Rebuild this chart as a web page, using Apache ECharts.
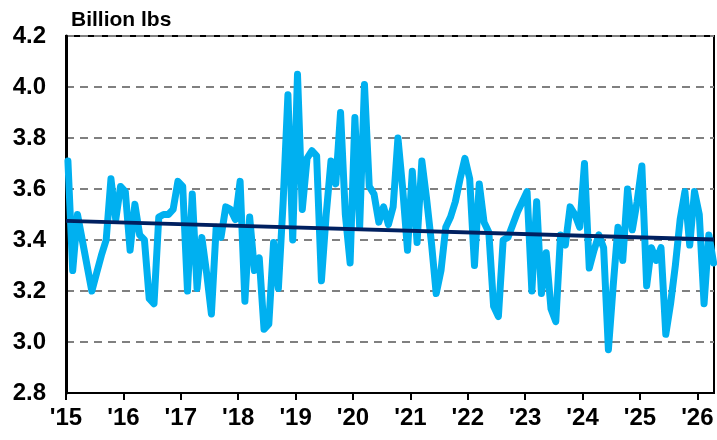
<!DOCTYPE html>
<html>
<head>
<meta charset="utf-8">
<script src="https://cdn.jsdelivr.net/npm/echarts@6/dist/echarts.min.js"></script>
<style>
  html, body { margin: 0; padding: 0; background: #fff; }
  #chart { width: 717px; height: 440px; }
</style>
</head>
<body>
<div id="chart"></div>
<script>
// monthly values, Jan 2015 .. Apr 2026 (billion lbs)
var startYear = 2015;
var monthlyValues = [
  3.71, 3.28, 3.50, 3.40, 3.30, 3.20, 3.27, 3.34, 3.40, 3.64, 3.48, 3.61,
  3.59, 3.36, 3.54, 3.42, 3.40, 3.17, 3.15, 3.49, 3.50, 3.50, 3.52, 3.63,
  3.61, 3.20, 3.58, 3.21, 3.41, 3.27, 3.11, 3.45, 3.41, 3.53, 3.52, 3.48,
  3.63, 3.16, 3.49, 3.28, 3.33, 3.05, 3.07, 3.39, 3.21, 3.55, 3.97, 3.40,
  4.05, 3.52, 3.72, 3.75, 3.73, 3.24, 3.50, 3.71, 3.62, 3.90, 3.50, 3.31,
  3.88, 3.45, 4.01, 3.61, 3.58, 3.47, 3.53, 3.46, 3.53, 3.80, 3.60, 3.36,
  3.67, 3.39, 3.71, 3.56, 3.39, 3.19, 3.28, 3.45, 3.49, 3.55, 3.64, 3.72,
  3.64, 3.30, 3.62, 3.47, 3.43, 3.14, 3.10, 3.40, 3.41, 3.46, 3.51, 3.55,
  3.59, 3.20, 3.55, 3.19, 3.35, 3.13, 3.08, 3.42, 3.38, 3.53, 3.50, 3.45,
  3.70, 3.29, 3.36, 3.42, 3.37, 2.97, 3.22, 3.45, 3.32, 3.60, 3.44, 3.55,
  3.69, 3.22, 3.37, 3.32, 3.37, 3.03, 3.15, 3.30, 3.48, 3.59, 3.38, 3.59,
  3.50, 3.15, 3.42, 3.31
];
// trend line end points
var trendYears  = [2015, 2026.29];
var trendValues = [3.475, 3.402];

var yTicks = [2.8, 3.0, 3.2, 3.4, 3.6, 3.8, 4.0, 4.2];

var seriesData = [];
for (var i = 0; i < monthlyValues.length; i++) {
  seriesData.push([startYear + (i + 0.4) / 12, monthlyValues[i]]);
}
var trendData = [];
for (var j = 0; j < trendYears.length; j++) {
  trendData.push([trendYears[j], trendValues[j]]);
}

var labelFont = "'Liberation Sans', Arial, sans-serif";

var chart = echarts.init(document.getElementById('chart'));
var option = {
  animation: false,
  title: {
    text: 'Billion lbs',
    left: 66,
    top: 5,
    textStyle: { fontFamily: labelFont, fontSize: 21, fontWeight: 'bold', color: '#000' }
  },
  grid: {
    left: 66, right: 3, top: 36, bottom: 47,
    show: true, borderColor: '#000', borderWidth: 2
  },
  xAxis: {
    type: 'value',
    min: startYear,
    max: trendYears[1],
    interval: 1,
    axisLine: { lineStyle: { color: '#000', width: 2 } },
    axisTick: { show: true, length: 7, inside: false, lineStyle: { color: '#000', width: 2 } },
    axisLabel: {
      margin: 13,
      showMaxLabel: false,
      fontFamily: labelFont, fontSize: 24, fontWeight: 'bold', color: '#000',
      formatter: function (v) {
        if (Math.abs(v - Math.round(v)) > 0.001) return '';
        return "'" + (Math.round(v) - 2000);
      }
    },
    splitLine: { show: false }
  },
  yAxis: {
    type: 'value',
    min: yTicks[0],
    max: yTicks[yTicks.length - 1],
    interval: 0.2,
    axisLine: { show: true, lineStyle: { color: '#000', width: 3 } },
    axisTick: { show: false },
    axisLabel: {
      margin: 20,
      fontFamily: labelFont, fontSize: 24, fontWeight: 'bold', color: '#000',
      formatter: function (v) { return v.toFixed(1); }
    },
    splitLine: { show: true, lineStyle: { color: '#808080', width: 2, type: [8, 6] } }
  },
  series: [
    {
      type: 'line',
      data: seriesData,
      showSymbol: false,
      symbol: 'none',
      lineStyle: { color: '#00B0F0', width: 7, cap: 'round', join: 'round' },
      z: 2
    },
    {
      type: 'line',
      data: trendData,
      showSymbol: false,
      symbol: 'none',
      lineStyle: { color: '#002060', width: 4 },
      z: 3
    }
  ]
};
chart.setOption(option);
</script>
</body>
</html>
